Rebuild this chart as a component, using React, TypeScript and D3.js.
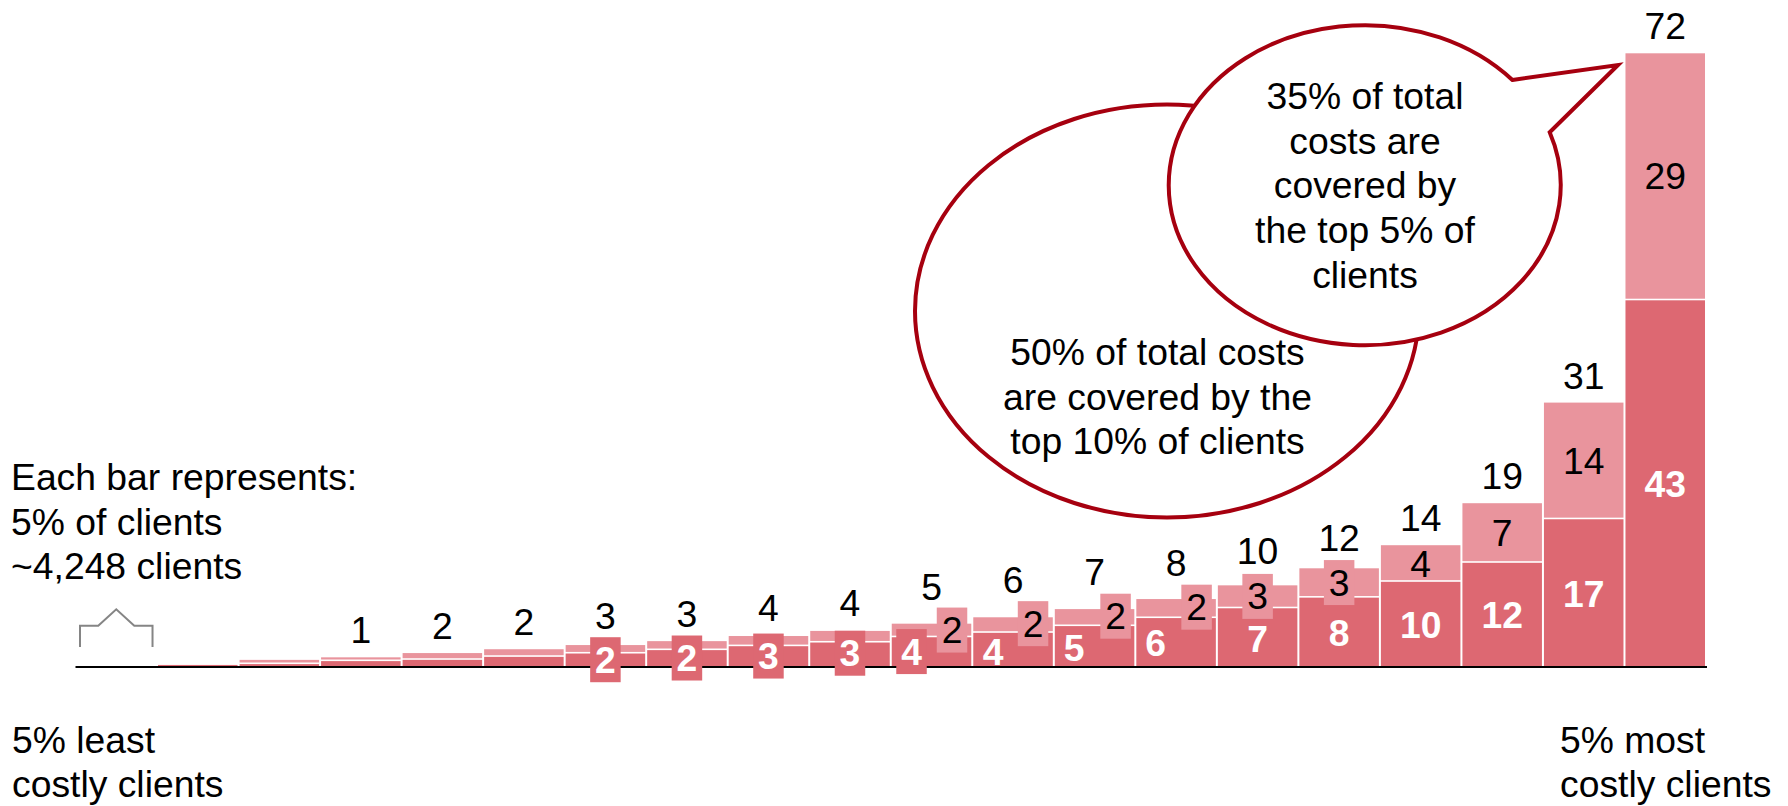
import React from "react";
import * as d3 from "d3";

// Cost per client group, in the units shown on the bars; the groups run from least to most costly.
const groups = d3.range(20);
const directCosts = [0, 0.3, 0.4, 0.75, 0.9, 1.25, 1.64, 2.04, 2.5, 2.93, 3.55, 4.07, 4.86, 5.8, 6.95, 8.2, 10.06, 12.29, 17.4, 43.1];
const otherCosts = [0, 0, 0.4, 0.35, 0.7, 0.8, 0.9, 0.96, 1.1, 1.27, 1.5, 1.73, 1.9, 2.14, 2.6, 3.35, 4.2, 6.9, 13.6, 28.9];

// First group that carries each kind of label.
const firstTotalLabel = 3;
const firstDirectLabel = 6;
const firstOtherLabel = 10;

// Label nudges away from the middle of their segment, where neighbours would collide.
const directNudgeX: Record<number, number> = { 10: -20, 11: -20, 12: -20.5, 13: -20.5 };
const otherNudgeX: Record<number, number> = { 10: 20.5, 11: 20, 12: 21, 13: 20.5 };
const directNudgeY: Record<number, number> = { 9: -1, 11: 3, 12: 2, 13: 1, 14: 2, 15: 1.5, 16: 1, 17: 1, 18: 1, 19: 1 };
const otherNudgeY: Record<number, number> = { 11: -1, 12: -1, 13: -1, 16: 1 };
const totalNudgeY: Record<number, number> = { 6: -2, 8: -1, 9: -1, 10: -10, 11: -10, 12: -10, 13: -9, 14: -7, 15: -3 };

// Labels from these groups sit on a small patch of their segment's colour.
const directPatched = [6, 7, 8, 9, 10];
const otherPatched = [10, 11, 12, 13, 14, 15];

const noteLines = ["Each bar represents:", "5% of clients", "~4,248 clients"];
const leastLines = ["5% least", "costly clients"];
const mostLines = ["5% most", "costly clients"];
const calloutTen = ["50% of total costs", "are covered by the", "top 10% of clients"];
const calloutFive = ["35% of total", "costs are", "covered by", "the top 5% of", "clients"];

const WIDTH = 1788;
const HEIGHT = 806;
const DARK = "#DD6872";
const LIGHT = "#E9949D";
const RIM = "#A6000F";
const FONT = "'Liberation Sans', Arial, sans-serif";
const SIZE = 37.3;

const x = d3.scaleBand<number>().domain(groups).range([75.5, 1706]).padding(0);
const y = d3.scaleLinear().domain([0, 72]).range([666.7, 53.3]);

const centre = (i: number) => (x(i) as number) + x.bandwidth() / 2;
const fmt = d3.format(".0f");

function Lines({ lines, x: tx, baselines, anchor = "start" }: { lines: string[]; x: number; baselines: number[]; anchor?: string }) {
  return (
    <>
      {lines.map((line, k) => (
        <text key={k} x={tx} y={baselines[k]} textAnchor={anchor as any}>
          {line}
        </text>
      ))}
    </>
  );
}

function Bars() {
  return (
    <g>
      {groups.map((i) => {
        const d = directCosts[i];
        const o = otherCosts[i];
        if (d + o === 0) return null;
        const left = (x(i) as number) + 1;
        const w = x.bandwidth() - 2;
        const split = y(d);
        return (
          <g key={i}>
            {o > 0 && <rect x={left} y={y(d + o)} width={w} height={Math.max(split - 0.8 - y(d + o), 0.8)} fill={LIGHT} />}
            <rect x={left} y={split + 0.8} width={w} height={Math.max(y(0) - split - 0.8, 1)} fill={DARK} />
          </g>
        );
      })}
    </g>
  );
}

function Patch({ cx, cy, fill }: { cx: number; cy: number; fill: string }) {
  return <rect x={cx - 15.25} y={cy - 22.5} width={30.5} height={45} fill={fill} />;
}

function Labels() {
  return (
    <g>
      {groups.map((i) => {
        const d = directCosts[i];
        const o = otherCosts[i];
        const c = centre(i);
        const dx = c + (directNudgeX[i] ?? 0);
        const dy = (y(0) + y(d)) / 2 + (directNudgeY[i] ?? 0);
        const ox = c + (otherNudgeX[i] ?? 0);
        const oy = (y(d) + y(d + o)) / 2 + (otherNudgeY[i] ?? 0);
        return (
          <g key={i}>
            {directPatched.includes(i) && <Patch cx={dx} cy={dy} fill={DARK} />}
            {otherPatched.includes(i) && <Patch cx={ox} cy={oy} fill={LIGHT} />}
            {i >= firstTotalLabel && (
              <text x={c} y={y(d + o) - 27 + (totalNudgeY[i] ?? 0)} dy="0.35em" textAnchor="middle">
                {fmt(d + o)}
              </text>
            )}
            {i >= firstDirectLabel && (
              <text x={dx} y={dy} dy="0.35em" textAnchor="middle" fill="#fff" fontWeight="bold">
                {fmt(d)}
              </text>
            )}
            {i >= firstOtherLabel && (
              <text x={ox} y={oy} dy="0.35em" textAnchor="middle">
                {fmt(o)}
              </text>
            )}
          </g>
        );
      })}
    </g>
  );
}

// A small bracket over the first band, showing how wide one group is.
function BandBracket() {
  const l = (x(0) as number) + 4.5;
  const r = l + x.bandwidth() - 9;
  const m = (l + r) / 2;
  const pts: [number, number][] = [
    [l, 647],
    [l, 625.7],
    [m - 18, 625.7],
    [m, 609.3],
    [m + 18, 625.7],
    [r, 625.7],
    [r, 647],
  ];
  return <path d={d3.line()(pts) as string} fill="none" stroke="#858585" strokeWidth={2} />;
}

function Callouts() {
  const rx = 196;
  const ry = 160;
  const bubble = `M1512.4,80 L1618,65 L1549.7,132.3 A${rx},${ry} 0 1 1 1512.4,80 Z`;
  return (
    <g>
      <ellipse cx={1167} cy={311} rx={252} ry={206.5} fill="#fff" stroke={RIM} strokeWidth={4} />
      <path d={bubble} fill="#fff" stroke={RIM} strokeWidth={4} strokeLinejoin="miter" strokeMiterlimit={10} />
      <Lines lines={calloutTen} x={1157.5} baselines={[365, 410, 454]} anchor="middle" />
      <Lines lines={calloutFive} x={1365} baselines={[109.3, 154, 198.3, 243.3, 288.3]} anchor="middle" />
    </g>
  );
}

export default function App() {
  return (
    <svg
      width={WIDTH}
      height={HEIGHT}
      viewBox={`0 0 ${WIDTH} ${HEIGHT}`}
      style={{ position: "absolute", left: 0, top: 0, display: "block", background: "#fff" }}
      fontFamily={FONT}
      fontSize={SIZE}
      fill="#000"
    >
      <Bars />
      <line x1={75.5} x2={1707} y1={667} y2={667} stroke="#000" strokeWidth={2} />
      <BandBracket />
      <Labels />
      <Callouts />
      <Lines lines={noteLines} x={11} baselines={[490, 535, 579.3]} />
      <Lines lines={leastLines} x={12} baselines={[752.7, 797.3]} />
      <Lines lines={mostLines} x={1560} baselines={[752.7, 797.3]} />
    </svg>
  );
}
